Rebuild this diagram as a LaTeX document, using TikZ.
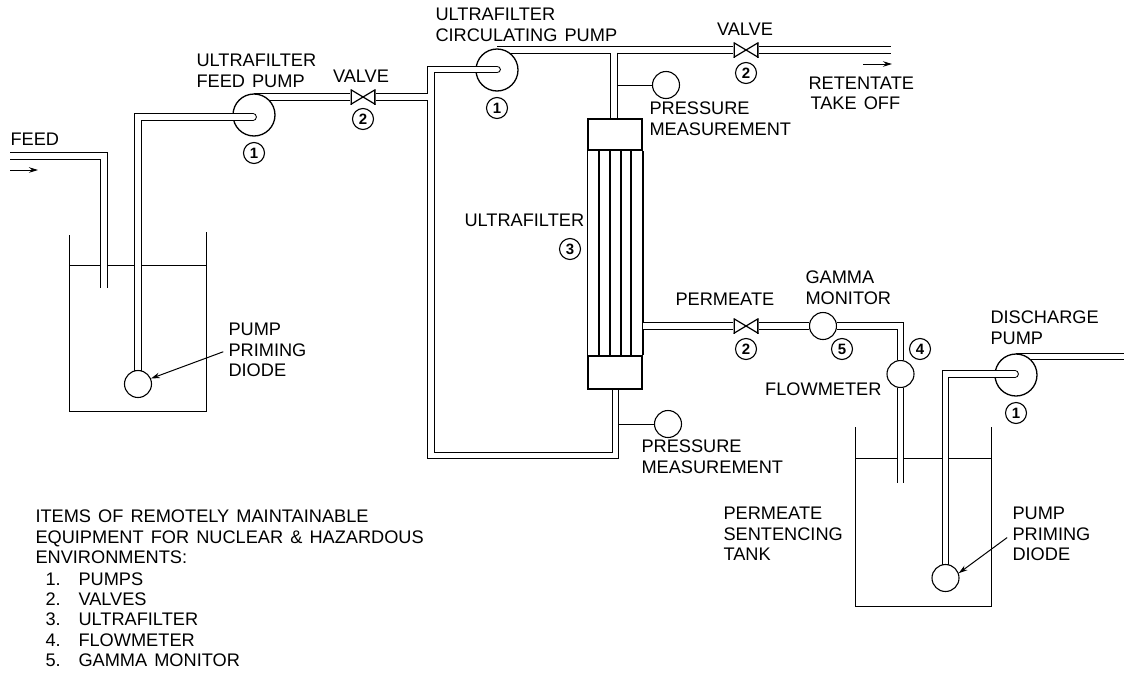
\documentclass[tikz,border=0pt]{standalone}
\usepackage{fontspec}
\setmainfont[WordSpace=1.4]{Liberation Sans}
\usepackage{tikz}
\usetikzlibrary{arrows.meta}

\begin{document}
\begin{tikzpicture}[x=1pt,y=-1pt,-,>={Stealth[length=9pt,width=5.5pt]},line width=1pt,
  pipe/.style={line width=1.1pt,double,double distance=5.6pt},
  suction/.style={pipe,line cap=round},
  pump node/.style={circle,fill=white,draw,line width=1.3pt,minimum size=42pt,inner sep=0},
  dial node/.style={circle,fill=white,draw,line width=1.1pt,minimum size=27pt,inner sep=0},
  mark node/.style={circle,fill=white,draw,line width=1.1pt,minimum size=21pt,inner sep=0,font=\fontsize{15}{15}\selectfont\bfseries},
  valve node/.style={rectangle,inner sep=0,minimum width=25pt,minimum height=15pt,path picture={
    \draw[line width=1.2pt] (path picture bounding box.south west) -- (path picture bounding box.north east)
      (path picture bounding box.south east) -- (path picture bounding box.north west);
    \draw[line width=2.8pt] (path picture bounding box.south west) -- (path picture bounding box.north west)
      (path picture bounding box.south east) -- (path picture bounding box.north east);}},
  header node/.style={rectangle,fill=white,draw,line width=1.5pt,minimum width=54pt,inner sep=0},
  text node/.style={inner sep=0,anchor=west,align=left,font=\fontsize{18.2}{20.6}\selectfont}]
  \useasboundingbox (0,0) rectangle (1124,672);

  % tanks
  \draw (69,235) |- (206,411) -- (206,232);
  \draw (69,265) -- (206,265);
  \draw (855,427) |- (991,606) -- (991,427);
  \draw (855,458) -- (991,458);

  % end points
  \coordinate (feedpos) at (254,115);
  \coordinate (circpos) at (497,70);
  \coordinate (discpos) at (1016,375);
  \coordinate (diodeapos) at (138,384);
  \coordinate (diodebpos) at (945.5,578);
  \coordinate (filterpos) at (615.5,372);
  \coordinate (looptop) at (428,97);
  \coordinate (retout) at (891,50);
  \coordinate (feedin) at (10,156);
  \coordinate (feedend) at (104,288);
  \coordinate (permin) at (643,326);
  \coordinate (permend) at (900.5,483);
  \coordinate (dischout) at (1124,356.5);
  \coordinate (toptee) at (614,52.6);
  \coordinate (pumpeye1) at (253,117);
  \coordinate (pumpeye2) at (497,69.5);
  \coordinate (pumpeye3) at (1015,374);

  % valves and dials
  \node[valve node] (feedvalve) at (363,97) {};
  \node[valve node] (retvalve) at (746,50) {};
  \node[valve node] (permvalve) at (746,326) {};
  \node[dial node] (gamma) at (823,326) {};
  \node[dial node] (flow) at (900.5,374) {};

  % pipes that run behind the pumps
  \draw[pipe] (feedpos |- feedvalve) -- (feedvalve.west);
  \draw[pipe] (circpos |- retvalve) -- (retvalve.west);
  \draw[pipe] (discpos |- dischout) -- (dischout);
  \node[pump node] (feedpump) at (feedpos) {};
  \node[pump node] (circpump) at (circpos) {};
  \node[pump node] (discpump) at (discpos) {};

  % loop and suction lines
  \draw[suction] (pumpeye2) -| (431,455.5) -| (filterpos);
  \draw[suction] (pumpeye1) -| (diodeapos);
  \draw[suction] (pumpeye3) -| (diodebpos);
  \node[dial node] (diodea) at (diodeapos) {};
  \node[dial node] (diodeb) at (diodebpos) {};

  % ultrafilter
  \node[header node,minimum height=31pt] (filtertop) at (615,134.5) {};
  \node[header node,minimum height=33pt] (filterbot) at (615,372.5) {};
  \draw[line width=1.5pt] (filtertop.south west) -- (filterbot.north west);
  \draw[line width=1.5pt] (filtertop.south east) -- (filterbot.north east);
  \foreach \x in {599,610,621,631}
    \draw[line width=1.1pt] (\x,150) -- (\x,356);

  \draw[pipe] (feedin) -| (feedend);
  \draw[pipe] (feedvalve.east) -- (looptop);
  \draw[pipe] (retvalve.east) -- (retout);
  \draw[pipe] (toptee) -- (toptee |- filtertop.north);
  \draw[pipe] (permin) -- (permvalve.west);
  \draw[pipe] (permvalve.east) -- (gamma.west);
  \draw[pipe] (gamma.east) -| (flow.north);
  \draw[pipe] (flow.south) -- (permend);

  % pressure gauges
  \node[dial node] (pressa) at (666,85) {};
  \node[dial node] (pressb) at (668,424) {};
  \coordinate (teea) at (617,85);
  \coordinate (teeb) at (619,424);
  \draw (teea) -- (pressa);
  \draw (teeb) -- (pressb);

  % number marks
  \node[mark node] (mfeedpump) [below of=feedpump,node distance=38pt] {1};
  \node[mark node] (mcircpump) [below of=circpump,node distance=38pt] {1};
  \node[mark node] (mdiscpump) [below of=discpump,node distance=38pt] {1};
  \node[mark node] (mfeedvalve) [below of=feedvalve,node distance=22pt] {2};
  \node[mark node] (mretvalve) [below of=retvalve,node distance=23pt] {2};
  \node[mark node] (mpermvalve) [below of=permvalve,node distance=23pt] {2};
  \node[mark node] (mfilter) at (570,249) {3};
  \node[mark node] (mflow) at (920,349) {4};
  \node[mark node] (mgamma) at (842,349) {5};

  % labels
  \node[text node] (lfeed) at (10,139) {FEED};
  \node[text node] (lfeedpump) at (196,71) {ULTRAFILTER\\FEED PUMP};
  \node[text node,anchor=center] (lfeedvalve) at (361,76) {VALVE};
  \node[text node] (lprimea) at (228,350) {PUMP\\PRIMING\\DIODE};
  \node[text node] (lcircpump) at (435,25) {ULTRAFILTER\\CIRCULATING PUMP};
  \node[text node,anchor=center] (lretvalve) at (745,29) {VALVE};
  \node[text node] (lret) at (808,93.5) {RETENTATE\\\hspace{2pt}TAKE OFF};
  \node[text node] (lpressa) at (649,119) {PRESSURE\\MEASUREMENT};
  \node[text node] (lfilter) at (464,220) {ULTRAFILTER};
  \node[text node] (lperm) at (675,299) {PERMEATE};
  \node[text node] (lgamma) at (805,287.5) {GAMMA\\MONITOR};
  \node[text node,anchor=east] (lflow) at (882,389) {FLOWMETER};
  \node[text node] (ldisc) at (990,328) {DISCHARGE\\PUMP};
  \node[text node] (lpressb) at (641,457) {PRESSURE\\MEASUREMENT};
  \node[text node] (ltank) at (723,534) {PERMEATE\\SENTENCING\\TANK};
  \node[text node] (lprimeb) at (1012,534) {PUMP\\PRIMING\\DIODE};
  \node[text node] (litems) at (35,537) {ITEMS OF REMOTELY MAINTAINABLE\\EQUIPMENT FOR NUCLEAR \& HAZARDOUS\\ENVIRONMENTS:};
  \foreach \n/\t/\y in {1/PUMPS/579,2/VALVES/599,3/ULTRAFILTER/619.5,4/FLOWMETER/640,5/GAMMA MONITOR/660} {
    \node[text node] (n\n) at (45,\y) {\n.};
    \node[text node] (t\n) at (78,\y) {\t};
  }

  % arrows
  \coordinate (feedtail) at (10,170);
  \coordinate (feedhead) at (38,170);
  \coordinate (rettail) at (863,64);
  \coordinate (rethead) at (892,64);
  \draw[->] (feedtail) -- (feedhead);
  \draw[->] (rettail) -- (rethead);
  \draw[->,shorten <=5pt] (lprimea.west) -- (diodea.23);
  \draw[->,shorten <=6pt] (lprimeb.west) -- (diodeb.20);
\end{tikzpicture}
\end{document}
